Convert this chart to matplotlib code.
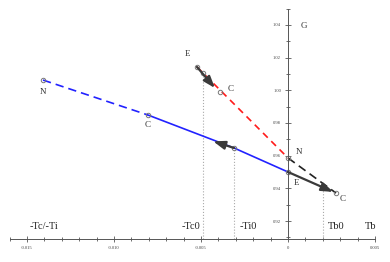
import matplotlib.pyplot as plt
import numpy as np

plt.rcParams['font.family'] = ['Liberation Serif', 'DejaVu Serif']

# blue curve N -> C (dashed), C -> E (solid)
blue_dash_x = [-0.01408, -0.00805]
blue_dash_y = [1.0063, 0.9849]
blue_solid_x = [-0.00805, -0.0031, 0.0]
blue_solid_y = [0.9849, 0.9647, 0.9500]
# red dashed E -> N
red_x = [-0.00523, 0.0]
red_y = [1.0143, 0.9586]
# black dashed N -> C
black_x = [0.0, 0.00276]
black_y = [0.9586, 0.9371]

# open circles
pts_x = [-0.01408, -0.00805, -0.0031, 0.0, -0.00523, -0.0049, -0.0039, 0.0, 0.00201, 0.00276]
pts_y = [1.0063, 0.9849, 0.9647, 0.9500, 1.0143, 1.0106, 0.999, 0.9586, 0.9408, 0.9371]

# dotted guides: x, top y
guide_x = [-0.0049, -0.0031, 0.00201]
guide_top = [1.0106, 0.9647, 0.9408]

# arrows: start, end
arrows = [((-0.00523, 1.0143), (-0.0042, 1.0014)),
          ((-0.0031, 0.9647), (-0.0043, 0.9688)),
          ((0.0, 0.9500), (0.0026, 0.9378))]

point_labels = ['N', 'C', 'E', 'C', 'G', 'N', 'E', 'C']
point_lx = [-0.01408, -0.00808, -0.00575, -0.0033, 0.0009, 0.00065, 0.00048, 0.00315]
point_ly = [0.9990, 0.9790, 1.0220, 1.0010, 1.0395, 0.9620, 0.9435, 0.9335]

axis_labels = ['-Tc/-Ti', '-Tc0', '-Ti0', 'Tb0', 'Tb']
axis_lx = [-0.01405, -0.0056, -0.0023, 0.00275, 0.00475]
axis_ly = 0.914

xmin, xmax = -0.016, 0.005
ybot, ytop = 0.909, 1.05

fig = plt.figure(figsize=(3.9, 2.62), dpi=100)
ax = fig.add_axes([0, 0, 1, 1])
ax.set_xlim(-0.01655, 0.00586)
ax.set_ylim(0.8949, 1.0553)

for gx, gt in zip(guide_x, guide_top):
    ax.plot([gx, gx], [ybot, gt], ls=':', color='#aaaaaa', lw=0.8)

ax.plot(blue_dash_x, blue_dash_y, color='#2222ff', lw=1.2, ls=(0, (5, 3)))
ax.plot(blue_solid_x, blue_solid_y, color='#2222ff', lw=1.2)
ax.plot(red_x, red_y, color='#ff1a1a', lw=1.2, ls=(0, (4, 3)))
ax.plot(black_x, black_y, color='#222222', lw=1.2, ls=(0, (5, 3)))

for (x0, y0), (x1, y1) in arrows:
    ax.annotate('', xy=(x1, y1), xytext=(x0, y0),
                arrowprops=dict(arrowstyle='-|>,head_length=0.7,head_width=0.25',
                                color='#3a3a3a', lw=1.6, shrinkA=0, shrinkB=0))

ax.plot(pts_x, pts_y, 'o', ms=3.2, mfc='none', mec='#777777', mew=0.7)

for t, x, y in zip(point_labels, point_lx, point_ly):
    ax.text(x, y, t, fontsize=6.5, ha='center', va='center', color='#333333')
for t, x in zip(axis_labels, axis_lx):
    ax.text(x, axis_ly, t, fontsize=7.5, ha='center', va='bottom', color='#222222')

for s in ['top', 'right']:
    ax.spines[s].set_visible(False)
ax.spines['left'].set_position(('data', 0))
ax.spines['left'].set_bounds(ybot, ytop)
ax.spines['bottom'].set_position(('data', ybot))
ax.spines['bottom'].set_bounds(xmin, xmax)
for s in ['left', 'bottom']:
    ax.spines[s].set_color('#555555')
    ax.spines[s].set_linewidth(0.7)

ax.set_xticks([-0.015, -0.010, -0.005, 0, 0.005])
ax.set_xticklabels(['-0.015', '-0.010', '-0.005', '0', '0.005'])
ax.set_xticks(np.arange(-16, 6) / 1000, minor=True)
ax.set_yticks([0.92, 0.94, 0.96, 0.98, 1.00, 1.02, 1.04])
ax.set_yticklabels(['0.92', '0.94', '0.96', '0.98', '1.00', '1.02', '1.04'])
ax.set_yticks(np.arange(91, 106) / 100, minor=True)
ax.tick_params(which='both', direction='inout', color='#555555', width=0.6,
               labelsize=3.3, labelcolor='#444444', pad=3)
ax.tick_params(which='major', length=4)
ax.tick_params(which='minor', length=3)

fig.savefig('out.png', dpi=100)
